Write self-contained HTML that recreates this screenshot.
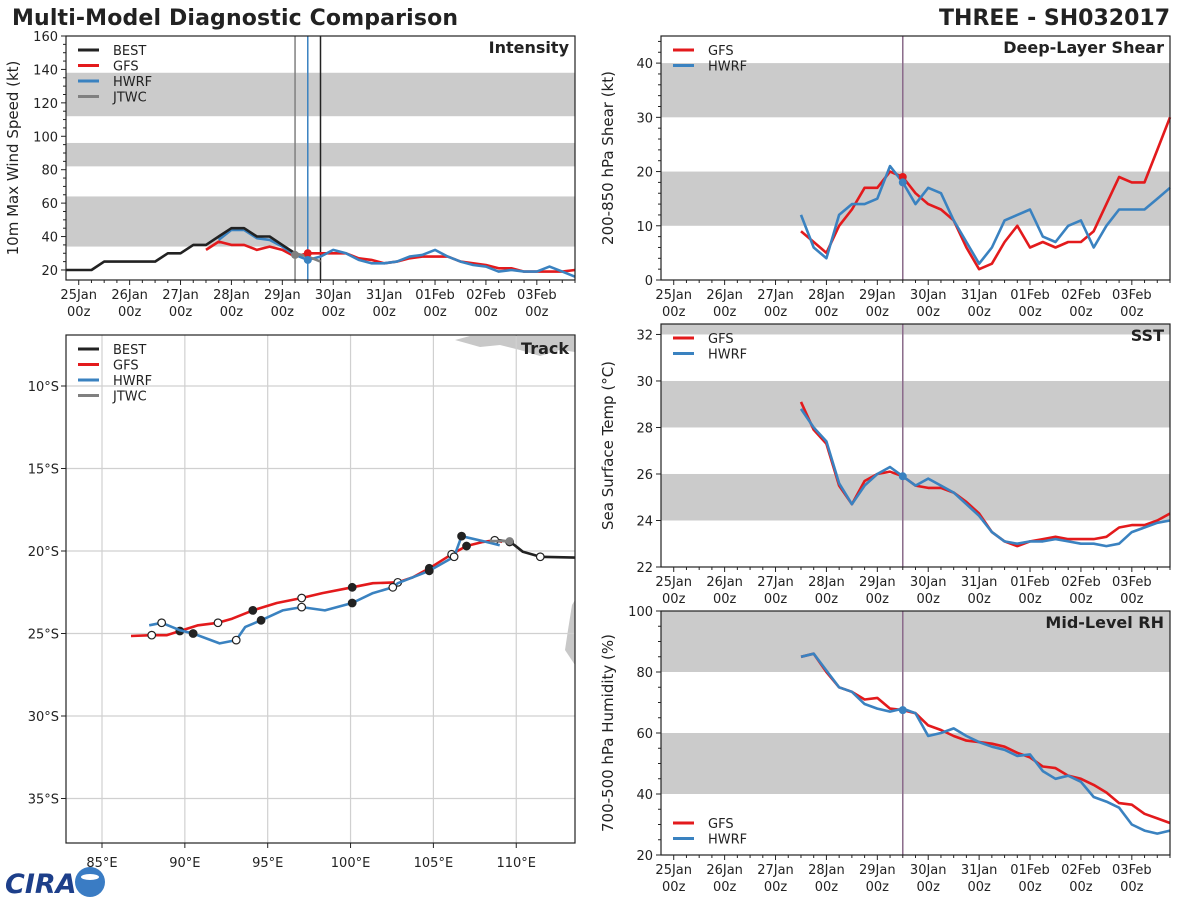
<!DOCTYPE html>
<html><head><meta charset="utf-8"><style>
body{margin:0;background:#fff;}
svg text{font-family:"DejaVu Sans","Liberation Sans",sans-serif;fill:#222;}
</style></head><body>
<svg id="c" width="1200" height="900" xmlns="http://www.w3.org/2000/svg">
<text x="12" y="25" font-size="22" font-weight="bold" letter-spacing="0.15">Multi-Model Diagnostic Comparison</text>
<text x="1170" y="25" font-size="22" font-weight="bold" text-anchor="end">THREE - SH032017</text>
<g>
<text x="5" y="893" font-size="27" font-weight="bold" font-style="italic" style="fill:#1d3f8a">CIRA</text>
<circle cx="90" cy="882" r="15" fill="#3a7cc4"/>
<ellipse cx="90" cy="877" rx="9" ry="3" fill="#fff"/>
</g>
</svg>
<script>
// ---------- data ----------
const tStart = 2.5; // days from 25Jan00z for model series
const intBestT0 = -0.25;
const intBest = [20,20,20,25,25,25,25,25,30,30,35,35,40,45,45,40,40,35,30];
const intGFS = [32,37,35,35,32,34,32,28,30,30,30,30,27,26,24,25,27,28,28,28,25,24,23,21,21,19,19,19,19,20];
const intHWRF = [38,44,44,39,38,34,29,26,28,32,30,26,24,24,25,28,29,32,28,25,23,22,19,20,19,19,22,19,16];
const intHWRFt0 = 2.75;
const intJTWC = [30,28,25];
const intJTWCt0 = 4.25;
const shrGFS = [9,7,5,10,13,17,17,20,19,16,14,13,11,6,2,3,7,10,6,7,6,7,7,9,14,19,18,18,24,30];
const shrHWRF = [12,6,4,12,14,14,15,21,18,14,17,16,11,7,3,6,11,12,13,8,7,10,11,6,10,13,13,13,15,17];
const sstGFS = [29.1,27.9,27.3,25.5,24.7,25.7,26.0,26.1,25.9,25.5,25.4,25.4,25.2,24.8,24.3,23.5,23.1,22.9,23.1,23.2,23.3,23.2,23.2,23.2,23.3,23.7,23.8,23.8,24.0,24.3];
const sstHWRF = [28.8,28.0,27.4,25.6,24.7,25.5,26.0,26.3,25.9,25.5,25.8,25.5,25.2,24.7,24.2,23.5,23.1,23.0,23.1,23.1,23.2,23.1,23.0,23.0,22.9,23.0,23.5,23.7,23.9,24.0];
const rhGFS = [85,86,80,75,73.5,71,71.5,68,67.5,66.5,62.5,61,59,57.5,57,56.5,55.5,53.5,52,49,48.5,46,45,43,40.5,37,36.5,33.5,32,30.5];
const rhHWRF = [85,86,80.5,75,73.5,69.5,68,67,68,66.5,59,60,61.5,59,57,55.5,54.5,52.5,53,47.5,45,46,44,39,37.5,35.5,30,28,27,28];
const dayLabels = ["25Jan","26Jan","27Jan","28Jan","29Jan","30Jan","31Jan","01Feb","02Feb","03Feb"];
// track (lon E, lat S)
const gfsLon = [86.75,88.0,88.9,89.7,90.8,92.0,92.85,94.1,95.55,97.05,98.3,100.1,101.35,102.85,103.75,104.75,106.1,107.0,108.0,108.7,109.15];
const gfsLat = [25.15,25.1,25.1,24.85,24.5,24.35,24.1,23.6,23.15,22.85,22.55,22.2,21.95,21.9,21.6,21.05,20.2,19.7,19.45,19.35,19.45];
const gfsMk = ["","o","","f","","o","","f","","o","","f","","o","","f","o","f","","o",""];
const hwLon = [87.85,88.6,89.7,90.5,92.1,93.1,93.65,94.6,95.9,97.05,98.45,100.1,101.35,102.55,102.85,104.75,106.25,106.7,108.0,109.0];
const hwLat = [24.5,24.35,24.8,25.0,25.6,25.4,24.6,24.2,23.6,23.4,23.6,23.15,22.55,22.2,21.95,21.2,20.35,19.1,19.4,19.65];
const hwMk = ["","o","","f","","o","","f","","o","","f","","o","","f","o","f","",""];
const bestLon = [108.7,109.6,109.9,110.4,111.45,113.55];
const bestLat = [19.3,19.45,19.65,20.05,20.35,20.4];
const bestMk = ["","f","","","o",""];
const jtLon = [108.4,109.6];
const jtLat = [19.4,19.4];

const svg = document.getElementById('c');
const NS = 'http://www.w3.org/2000/svg';
function mk(tag, attrs, parent){const e=document.createElementNS(NS,tag);for(const k in attrs)e.setAttribute(k,attrs[k]);(parent||svg).appendChild(e);return e;}
const RED='#e31a1c', BLUE='#3a82c0', BLACK='#222', GRAY='#808080';

function timePanel(p){
  const g=mk('g',{});
  
  
  const X=t=>p.x0+(t+0.25)/10*(p.x1-p.x0);
  const Y=v=>p.y1-(v-p.vmin)/(p.vmax-p.vmin)*(p.y1-p.y0);
  p.bands.forEach(b=>{const r=mk('rect',{x:p.x0,y:Y(Math.min(b[1],p.vmax)),width:p.x1-p.x0,height:Y(b[0])-Y(Math.min(b[1],p.vmax)),fill:'#cbcbcb'},g);
    
    });
  (p.vlines||[]).forEach(v=>{mk('line',{x1:X(v[0]),x2:X(v[0]),y1:p.y0,y2:p.y1,stroke:v[1],'stroke-width':1.5},g);});
  const series=(arr,t0,col,nm)=>{let d='';arr.forEach((v,i)=>{d+=(i?'L':'M')+X(t0+i*0.25).toFixed(1)+','+Y(v).toFixed(1);});
    const pl=mk('path',{d:d,fill:'none',stroke:col,'stroke-width':2.6,'stroke-linejoin':'round'},g);
    
    };
  p.series.forEach(s=>series(s[0],s[1],s[2],s[3]));
  (p.dots||[]).forEach(d=>mk('circle',{cx:X(d[0]),cy:Y(d[1]),r:4,fill:d[2]},g));
  mk('rect',{x:p.x0,y:p.y0,width:p.x1-p.x0,height:p.y1-p.y0,fill:'none',stroke:'#222','stroke-width':1.2},g);
  p.yticks.forEach(v=>{mk('line',{x1:p.x0-5,x2:p.x0,y1:Y(v),y2:Y(v),stroke:'#222'},g);
    const t=mk('text',{x:p.x0-8,y:Y(v)+5,'font-size':13,'text-anchor':'end'},g);t.textContent=v;});
  (p.minor||[]).forEach(v=>mk('line',{x1:p.x0-3,x2:p.x0,y1:Y(v),y2:Y(v),stroke:'#222'},g));
  for(let t=0;t<=9.75;t+=0.25){mk('line',{x1:X(t),x2:X(t),y1:p.y1,y2:p.y1+(t%1===0?5:3),stroke:'#222'},g);}
  dayLabels.forEach((l,i)=>{const a=mk('text',{x:X(i),y:p.y1+19,'font-size':13,'text-anchor':'middle'},g);a.textContent=l;
    const b=mk('text',{x:X(i),y:p.y1+36,'font-size':13,'text-anchor':'middle'},g);b.textContent='00z';});
  const yt=mk('text',{x:0,y:0,'font-size':15,'text-anchor':'middle',transform:`translate(${p.x0-48},${(p.y0+p.y1)/2}) rotate(-90)`},g);yt.textContent=p.ytitle;
  
  
  const ti=mk('text',{x:p.x1-6,y:p.y0+17,'font-size':16,'font-weight':'bold','text-anchor':'end'},g);ti.textContent=p.title;
  
  
  const lg=mk('g',{},g);
  
  
  p.legend.forEach((e,i)=>{const y=p.legY+i*15.5;mk('line',{x1:p.x0+12,x2:p.x0+33,y1:y,y2:y,stroke:e[1],'stroke-width':3},lg);
    const t=mk('text',{x:p.x0+47,y:y+5,'font-size':13},lg);t.textContent=e[0];});
}
const L4=[['BEST',BLACK],['GFS',RED],['HWRF',BLUE],['JTWC',GRAY]];
const L2=[['GFS',RED],['HWRF',BLUE]];
timePanel({name:'intensity',x0:66,x1:575,y0:36,y1:280,vmin:14,vmax:160,bands:[[34,64],[82,96],[112,138]],
  vlines:[[4.25,GRAY],[4.5,BLUE],[4.75,BLACK]],
  series:[[intGFS,tStart,RED,'gfs-intensity-line'],[intHWRF,intHWRFt0,BLUE,'hwrf-intensity-line'],[intBest,intBestT0,BLACK,'best-intensity-line'],[intJTWC,intJTWCt0,GRAY,'jtwc-intensity-line']],
  dots:[[4.5,30,RED],[4.5,26,BLUE],[4.25,29,GRAY]],
  yticks:[20,40,60,80,100,120,140,160],minor:[25,30,35,45,50,55,65,70,75,85,90,95,105,110,115,125,130,135,145,150,155],
  ytitle:'10m Max Wind Speed (kt)',title:'Intensity',legend:L4,legY:50});
timePanel({name:'shear',x0:661,x1:1170,y0:36,y1:280,vmin:0,vmax:45,bands:[[10,20],[30,40]],vlines:[[4.5,'#8a6a8a']],
  series:[[shrGFS,tStart,RED,'gfs-shear-line'],[shrHWRF,tStart,BLUE,'hwrf-shear-line']],dots:[[4.5,19,RED],[4.5,18,BLUE]],
  yticks:[0,10,20,30,40],minor:[2,4,6,8,12,14,16,18,22,24,26,28,32,34,36,38,42,44],ytitle:'200-850 hPa Shear (kt)',title:'Deep-Layer Shear',legend:L2,legY:50});
timePanel({name:'sst',x0:661,x1:1170,y0:324,y1:567,vmin:22,vmax:32.45,bands:[[24,26],[28,30],[32,33]],vlines:[[4.5,'#8a6a8a']],
  series:[[sstGFS,tStart,RED,'gfs-sst-line'],[sstHWRF,tStart,BLUE,'hwrf-sst-line']],dots:[[4.5,25.9,BLUE]],
  yticks:[22,24,26,28,30,32],ytitle:'Sea Surface Temp (°C)',title:'SST',legend:L2,legY:338});
timePanel({name:'rh',x0:661,x1:1170,y0:611,y1:855,vmin:20,vmax:100,bands:[[40,60],[80,100]],vlines:[[4.5,'#8a6a8a']],
  series:[[rhGFS,tStart,RED,'gfs-rh-line'],[rhHWRF,tStart,BLUE,'hwrf-rh-line']],dots:[[4.5,67.5,BLUE]],
  yticks:[20,40,60,80,100],minor:[25,30,35,45,50,55,65,70,75,85,90,95],ytitle:'700-500 hPa Humidity (%)',title:'Mid-Level RH',legend:L2,legY:823});

// ---------- track ----------
(function(){
  const x0=66,x1=575,y0=335,y1=843;
  const g=mk('g',{});
  
  
  const X=lon=>102+(lon-85)*16.57;
  const Y=lat=>386+(lat-10)*16.5;
  const clip=mk('clipPath',{id:'tc'},g);mk('rect',{x:x0,y:y0,width:x1-x0,height:y1-y0},clip);
  const inner=mk('g',{'clip-path':'url(#tc)'},g);
  const land=mk('path',{d:'M455,340 L470,336 L575,336 L575,352 L560,350 L540,356 L520,350 L500,345 L480,347 Z M572,605 L575,600 L575,665 L565,650 L568,630 Z',fill:'#c8c8c8'},inner);
  
  
  [85,90,95,100,105,110].forEach(l=>mk('line',{x1:X(l),x2:X(l),y1:y0,y2:y1,stroke:'#d0d0d0','stroke-width':1.2},inner));
  [10,15,20,25,30,35].forEach(l=>mk('line',{x1:x0,x2:x1,y1:Y(l),y2:Y(l),stroke:'#d0d0d0','stroke-width':1.2},inner));
  const tr=(lo,la,col,nm,mkr)=>{let d='';lo.forEach((v,i)=>d+=(i?'L':'M')+X(v).toFixed(1)+','+Y(la[i]).toFixed(1));
    const p=mk('path',{d:d,fill:'none',stroke:col,'stroke-width':2.6,'stroke-linejoin':'round'},inner);
    
    
    (mkr||[]).forEach((m,i)=>{if(m)mk('circle',{cx:X(lo[i]),cy:Y(la[i]),r:3.8,fill:m==='f'?'#222':'#fff',stroke:'#222','stroke-width':1.2},inner);});};
  tr(bestLon,bestLat,BLACK,'best-track',bestMk);
  tr(gfsLon,gfsLat,RED,'gfs-track',gfsMk);
  tr(hwLon,hwLat,BLUE,'hwrf-track',hwMk);
  tr(jtLon,jtLat,GRAY,'jtwc-track',null);
  mk('circle',{cx:X(109.6),cy:Y(19.4),r:4,fill:GRAY},inner);
  mk('rect',{x:x0,y:y0,width:x1-x0,height:y1-y0,fill:'none',stroke:'#222','stroke-width':1.2},g);
  [10,15,20,25,30,35].forEach(l=>{mk('line',{x1:x0-5,x2:x0,y1:Y(l),y2:Y(l),stroke:'#222'},g);
    const t=mk('text',{x:x0-7,y:Y(l)+5,'font-size':13,'text-anchor':'end'},g);t.textContent=l+'°S';});
  [85,90,95,100,105,110].forEach(l=>{mk('line',{x1:X(l),x2:X(l),y1:y1,y2:y1+5,stroke:'#222'},g);
    const t=mk('text',{x:X(l),y:y1+24,'font-size':13,'text-anchor':'middle'},g);t.textContent=l+'°E';});
  const ti=mk('text',{x:x1-6,y:y0+19,'font-size':16,'font-weight':'bold','text-anchor':'end'},g);ti.textContent='Track';
  
  
  const lg=mk('g',{},g);
  
  
  L4.forEach((e,i)=>{const y=349+i*15.5;mk('line',{x1:x0+12,x2:x0+33,y1:y,y2:y,stroke:e[1],'stroke-width':3},lg);
    const t=mk('text',{x:x0+47,y:y+5,'font-size':13},lg);t.textContent=e[0];});
})();
</script>
</body></html>
